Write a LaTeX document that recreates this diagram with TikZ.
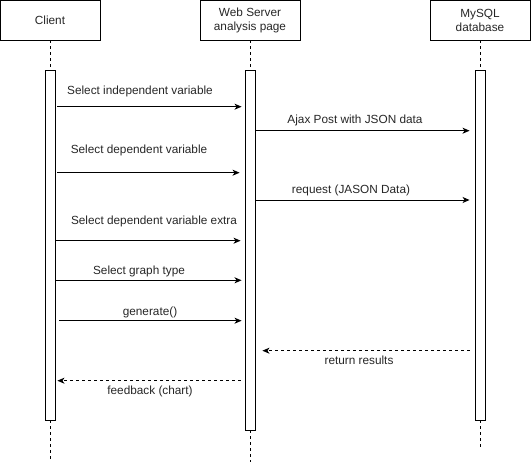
\documentclass[tikz,border=0pt]{standalone}
\usepackage{fontspec}
\setmainfont{Liberation Sans}
\usetikzlibrary{arrows.meta}
\begin{document}
\begin{tikzpicture}[x=1pt,y=-1pt,
  every node/.style={font=\fontsize{11.8}{14}\selectfont, text=black!85},
  actor/.style={draw, line width=0.9pt, minimum width=100pt, minimum height=40pt, inner sep=0pt, align=center},
  bar/.style={draw, line width=0.9pt, fill=white, minimum width=10pt, inner sep=0pt},
  life/.style={line width=0.9pt, dash pattern=on 3pt off 3pt},
  msg/.style={line width=0.9pt, -{Stealth[length=7pt,width=6pt,inset=2pt]}},
  ret/.style={msg, dash pattern=on 3pt off 3pt},
  lbl/.style={inner sep=0pt}]
\useasboundingbox (0,0) rectangle (531,462);
% actors
\node[actor] (client) at (50,20) {Client};
\node[actor] (web) at (250,20) {Web Server\\analysis page};
\node[actor] (db) at (480,20) {MySQL\\database};
% activation bars
\node[bar, minimum height=350pt] (cA) at (50,245) {};
\node[bar, minimum height=360pt] (wA) at (250,250) {};
\node[bar, minimum height=350pt] (dA) at (480,245) {};
% lifelines
\draw[life] (client.south) -- (cA.north);
\draw[life] (web.south) -- (wA.north);
\draw[life] (db.south) -- (dA.north);
\coordinate (cEnd) at (50,462);
\coordinate (wEnd) at (250,462);
\coordinate (dEnd) at (480,450);
\draw[life] (cA.south) -- (cEnd);
\draw[life] (wA.south) -- (wEnd);
\draw[life] (dA.south) -- (dEnd);
% messages
\draw[msg] ([xshift=2pt]cA.east |- 0,106.7) -- ([xshift=-3pt]wA.west |- 0,106.7);
\node[lbl] (m1) at (140,91.7) {Select independent variable};
\draw[msg] (wA.east |- 0,130.7) -- ([xshift=-5pt]dA.west |- 0,130.7);
\node[lbl] (m2) at (355,120.7) {Ajax Post with JSON data};
\draw[msg] ([xshift=2pt]cA.east |- 0,172.7) -- ([xshift=-5pt]wA.west |- 0,172.7);
\node[lbl] (m3) at (139,150.7) {Select dependent variable};
\draw[msg] (wA.east |- 0,200) -- ([xshift=-5pt]dA.west |- 0,200);
\node[lbl] (m4) at (351,190.7) {request (JASON Data)};
\draw[msg] ([xshift=1pt]cA.east |- 0,240.7) -- ([xshift=-4pt]wA.west |- 0,240.7);
\node[lbl] (m5) at (154,221) {Select dependent variable extra};
\draw[msg] ([xshift=1pt]cA.east |- 0,280.3) -- ([xshift=-3pt]wA.west |- 0,280.3);
\node[lbl] (m6) at (139,271) {Select graph type};
\draw[msg] ([xshift=4pt]cA.east |- 0,320.7) -- ([xshift=-3pt]wA.west |- 0,320.7);
\node[lbl] (m7) at (150,312) {generate()};
\draw[ret] ([xshift=-5pt]dA.west |- 0,350.7) -- ([xshift=7pt]wA.east |- 0,350.7);
\node[lbl] (m8) at (359,360.7) {return results};
\draw[ret] ([xshift=-4pt]wA.west |- 0,380.7) -- ([xshift=2pt]cA.east |- 0,380.7);
\node[lbl] (m9) at (150,391.3) {feedback (chart)};
\end{tikzpicture}
\end{document}
